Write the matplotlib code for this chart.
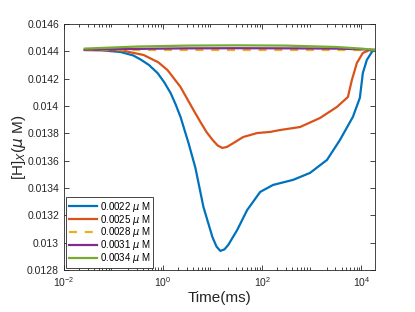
import matplotlib
matplotlib.use("Agg")
import matplotlib.pyplot as plt
from matplotlib.ticker import FormatStrFormatter, LogLocator, NullFormatter

plt.rcParams['font.family'] = ['Liberation Sans', 'DejaVu Sans']

# values
t_blue = [0.0264, 0.0555, 0.140, 0.250, 0.353, 0.520, 0.775, 1.05, 1.42, 1.80,
          2.25, 3.26, 4.50, 6.52, 9.89, 12.0, 14.3, 17.3, 20.7, 31.4, 49.9,
          91.2, 166, 420, 922, 2027, 3700, 6750, 9330, 10720, 12900, 16260, 18660]
h_blue = [0.014410, 0.014408, 0.014395, 0.014370, 0.014340, 0.014300, 0.014241,
          0.014175, 0.014095, 0.014010, 0.013920, 0.013729, 0.013546, 0.013261,
          0.013041, 0.012970, 0.012939, 0.012950, 0.012983, 0.013093, 0.013239,
          0.013371, 0.013422, 0.013459, 0.013510, 0.013605, 0.013751, 0.013920,
          0.014059, 0.014241, 0.014337, 0.014395, 0.014410]

t_orange = [0.0264, 0.140, 0.406, 0.80, 1.23, 2.25, 4.10, 5.5, 7.5, 10.0, 12.7,
            15.7, 19.4, 24.5, 41.5, 79.3, 145, 230, 581, 1466, 3220, 5360,
            6440, 8130, 10720, 14830, 18660]
h_orange = [0.014410, 0.014408, 0.014373, 0.014320, 0.014263, 0.014139,
            0.013971, 0.013891, 0.013810, 0.013751, 0.013710, 0.013693,
            0.013700, 0.013722, 0.013773, 0.013802, 0.013810, 0.013824,
            0.013846, 0.013912, 0.013993, 0.014066, 0.014190, 0.014315,
            0.014388, 0.014410, 0.014410]

t_flat = [0.0264, 0.3, 3, 30, 300, 3000, 10000, 18660]
h_yellow = [0.014410, 0.014410, 0.014410, 0.014410, 0.014410, 0.014410, 0.014410, 0.014410]
h_purple = [0.014412, 0.014418, 0.014422, 0.014423, 0.014422, 0.014420, 0.014415, 0.014410]
h_green = [0.014420, 0.014435, 0.014442, 0.014444, 0.014442, 0.014432, 0.014420, 0.014410]

labels = ['0.0022 $\\mu$ M', '0.0025 $\\mu$ M', '0.0028 $\\mu$ M',
          '0.0031 $\\mu$ M', '0.0034 $\\mu$ M']
colors = ['#0072BD', '#D95319', '#EDB120', '#7E2F8E', '#77AC30']

fig = plt.figure(figsize=(4.15, 3.12), dpi=100)
ax = fig.add_axes([0.154, 0.135, 0.75, 0.788])

ax.plot(t_blue, h_blue, color=colors[0], lw=1.6, label=labels[0])
ax.plot(t_orange, h_orange, color=colors[1], lw=1.6, label=labels[1])
ax.plot(t_flat, h_yellow, color=colors[2], lw=1.6, ls=(0, (3.6, 3.5)), label=labels[2])
ax.plot(t_flat, h_purple, color=colors[3], lw=1.6, label=labels[3])
ax.plot(t_flat, h_green, color=colors[4], lw=1.6, label=labels[4])

ax.set_xscale('log')
ax.set_xlim(0.01, 1.9e4)
ax.set_ylim(0.0128, 0.0146)
ax.set_yticks([0.0128 + 0.0002 * i for i in range(10)])
ax.yaxis.set_major_formatter(FormatStrFormatter('%g'))
ax.set_xticks([1e-2, 1e0, 1e2, 1e4])
ax.xaxis.set_minor_locator(LogLocator(base=10, subs=range(2, 10), numticks=20))
ax.xaxis.set_minor_formatter(NullFormatter())

ax.tick_params(which='both', direction='in', top=True, right=True,
               labelsize=7.5, colors='#262626', width=0.6)
ax.tick_params(which='major', length=3.5)
ax.tick_params(which='minor', length=2)
for s in ax.spines.values():
    s.set_color('#262626')
    s.set_linewidth(0.6)

ax.set_xlabel('Time(ms)', fontsize=11, color='#262626', labelpad=2)
ax.set_ylabel('[H]$_X$($\\mu$ M)', fontsize=11, color='#262626', labelpad=-1)

leg = ax.legend(loc='lower left', fontsize=7, handlelength=2.9, handletextpad=0.3,
                labelspacing=-0.12, borderpad=0.3, fancybox=False, framealpha=1,
                edgecolor='#262626', borderaxespad=0.2)
leg.get_frame().set_linewidth(0.6)

fig.savefig('out.png', dpi=100)
